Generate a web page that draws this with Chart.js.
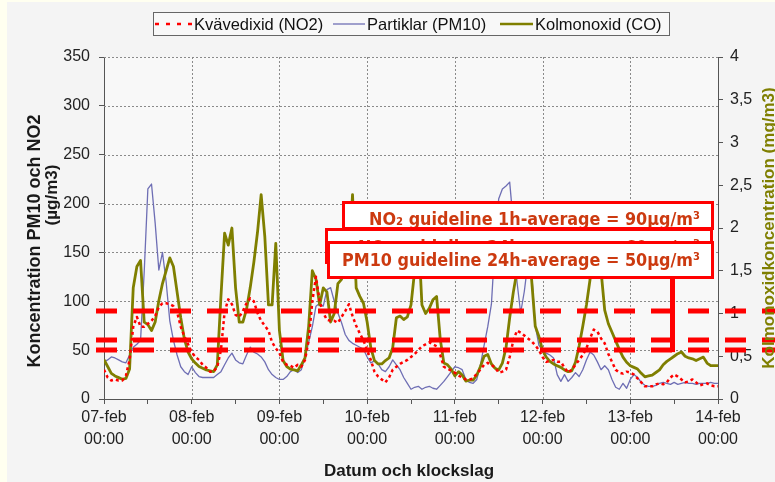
<!DOCTYPE html>
<html><head><meta charset="utf-8">
<script src="https://cdn.jsdelivr.net/npm/chart.js@4"></script>
<style>html,body{margin:0;padding:0;background:#f4f4f4;overflow:hidden}#wrap{width:775px;height:482px;position:relative}</style>
</head><body><div id="wrap"><canvas id="c" width="775" height="482"></canvas></div>
<script>
// ---- data ----
const hours = Array.from({length: 169}, (_, i) => i); // hourly time axis, 07-feb 00:00 .. 14-feb 00:00
const dayLabels = ['07-feb','08-feb','09-feb','10-feb','11-feb','12-feb','13-feb','14-feb'];
const timeLabel = '00:00';
const seriesNames = ['Kvävedixid (NO2)', 'Partiklar (PM10)', 'Kolmonoxid (CO)'];

const no2 = [30,22,19,20,19,19,24,40,74,84,74,74,77,80,85,94,98,98,97,95,89,74,64,56,
48,43,40,35,32,28,28,33,50,89,102,97,86,84,90,98,103,100,88,80,75,70,58,52,
47,38,35,34,32,35,33,40,60,100,125,100,88,81,80,80,78,84,90,97,85,75,67,60,
50,40,28,23,20,17,22,30,33,36,38,40,43,46,50,54,56,58,56,54,45,33,31,29,
27,24,22,20,20,21,26,30,35,37,35,32,27,28,30,43,60,70,68,65,62,59,55,50,
43,38,39,40,38,38,32,27,30,35,40,45,52,62,71,69,62,57,46,38,30,27,26,28,
27,25,21,17,13,13,13,15,16,15,17,22,25,23,20,17,18,20,17,14,15,16,14,13,13];

const pm10 = [38,40,43,42,40,38,37,45,53,56,60,130,215,220,180,132,150,120,80,60,45,33,28,25,
33,27,23,22,22,22,22,25,28,35,42,47,40,37,36,45,53,48,46,43,38,30,25,22,
20,20,23,28,30,27,30,43,58,74,95,98,95,112,114,100,88,78,66,60,57,55,53,51,
43,37,39,36,30,28,33,40,35,30,22,16,10,12,13,10,12,13,11,10,14,18,23,28,
33,32,30,20,17,16,20,35,55,74,97,160,205,215,218,222,180,120,88,110,140,130,75,55,
50,47,45,42,25,18,25,18,22,27,23,30,40,48,45,38,30,34,30,20,12,10,16,11,
20,25,22,17,14,13,13,14,16,17,16,15,17,15,16,17,16,16,15,16,16,16,17,16,16];

const co = [0.46,0.38,0.30,0.27,0.25,0.23,0.24,0.35,1.3,1.55,1.62,0.9,0.87,0.8,0.9,1.15,1.35,1.5,1.65,1.55,1.25,0.95,0.7,0.55,
0.47,0.42,0.38,0.36,0.34,0.33,0.32,0.4,1.2,1.94,1.8,2.0,1.3,0.9,0.9,1.05,1.3,1.6,1.95,2.39,1.9,1.1,1.1,1.82,
0.8,0.45,0.38,0.35,0.34,0.33,0.4,0.48,0.85,1.5,1.4,1.1,1.3,1.25,0.9,1.0,1.35,1.4,1.5,1.6,2.39,1.3,1.2,1.12,
0.9,0.6,0.45,0.41,0.41,0.45,0.48,0.6,0.95,0.97,0.93,0.96,1.1,1.5,1.95,1.1,1.0,1.06,1.16,1.2,0.7,0.42,0.4,0.35,
0.27,0.32,0.28,0.21,0.22,0.22,0.28,0.38,0.5,0.52,0.41,0.36,0.34,0.42,0.6,0.95,1.25,1.5,1.75,1.85,1.75,1.4,0.85,0.73,
0.57,0.49,0.44,0.41,0.39,0.37,0.34,0.32,0.33,0.43,0.62,0.85,1.1,1.4,1.8,1.95,1.5,1.04,0.88,0.78,0.68,0.58,0.49,0.43,
0.39,0.37,0.35,0.3,0.26,0.27,0.28,0.31,0.34,0.4,0.44,0.47,0.5,0.53,0.55,0.5,0.48,0.47,0.45,0.47,0.49,0.42,0.39,0.39,0.39];

const guidelineValues = [90, 60, 50];
const guidelineTexts = ['NO\u2082 guideline 1h-average = 90\u03bcg/m\u00b3',
                        'NO\u2082 guideline 24h-average = 60\u03bcg/m\u00b3',
                        'PM10 guideline 24h-average = 50\u03bcg/m\u00b3'];
const axisTitles = {
  left: ['Koncentration PM10 och NO2', '(\u00b5g/m3)'],
  right: 'Kolmonoxidkoncentration (mg/m3)',
  bottom: 'Datum och klockslag'
};

// ---- styles ----
const C_NO2 = '#ff0000', C_PM = '#6e6eb4', C_CO = '#7f7f00';
const FONT = '"Liberation Sans", Arial, sans-serif';
Chart.defaults.font.family = FONT;
Chart.defaults.font.size = 16;
Chart.defaults.color = '#222';

const bgPlugin = {
  id: 'bg',
  beforeDraw(chart) {
    const {ctx, chartArea: a} = chart;
    ctx.save();
    ctx.fillStyle = '#f4f4f4';
    ctx.fillRect(0, 0, chart.width, chart.height);
    ctx.fillStyle = '#fffff0';
    ctx.fillRect(0, 0, 7, chart.height);
    ctx.fillRect(0, 0, chart.width, 2);
    ctx.fillStyle = '#f8f8f8';
    ctx.fillRect(a.left, a.top, a.right - a.left, a.bottom - a.top);
    ctx.restore();
  },
  beforeDatasetsDraw(chart) {
    const {ctx, chartArea: a, scales} = chart;
    ctx.save();
    ctx.strokeStyle = '#8a8a8a';
    ctx.lineWidth = 1;
    ctx.setLineDash([2, 2]);
    scales.y.ticks.forEach(t => {
      if (t.value === 0) return;
      const y = Math.round(scales.y.getPixelForValue(t.value)) + 0.5;
      ctx.beginPath(); ctx.moveTo(a.left, y); ctx.lineTo(a.right, y); ctx.stroke();
    });
    scales.x.ticks.forEach(t => {
      if (t.value % 24 !== 0 || t.value === 0 || t.value === 168) return;
      const x = Math.round(scales.x.getPixelForValue(t.value)) + 0.5;
      ctx.beginPath(); ctx.moveTo(x, a.top); ctx.lineTo(x, a.bottom); ctx.stroke();
    });
    ctx.restore();
  }
};

const annoPlugin = {
  id: 'anno',
  afterDatasetsDraw(chart) {
    const {ctx, scales} = chart;
    const ys = scales.y;
    ctx.save();
    // guideline dashed lines
    ctx.strokeStyle = '#ff0000';
    ctx.lineWidth = 5;
    ctx.setLineDash([21, 16]);
    guidelineValues.forEach(v => {
      const y = Math.round(ys.getPixelForValue(v));
      ctx.beginPath(); ctx.moveTo(96, y); ctx.lineTo(775, y); ctx.stroke();
    });
    ctx.setLineDash([]);
    // connector from PM10 box down to its line
    ctx.beginPath(); ctx.moveTo(672.5, 277); ctx.lineTo(672.5, ys.getPixelForValue(guidelineValues[2]) + 2); ctx.stroke();
    // text boxes
    const boxes = [
      {x: 342, y: 201, w: 372, h: 29, tx: 700, ty: 225},
      {x: 325, y: 228, w: 388, h: 36, tx: 700, ty: 253},
      {x: 327, y: 241, w: 387, h: 38, tx: 700, ty: 266}
    ];
    const fnt = 'bold 18px "DejaVu Sans", sans-serif';
    ctx.font = fnt;
    const sx = 358 / ctx.measureText(guidelineTexts[2]).width;
    boxes.forEach((b, i) => {
      ctx.fillStyle = '#ffffff';
      ctx.fillRect(b.x, b.y, b.w, b.h);
      ctx.strokeStyle = '#ff0000';
      ctx.lineWidth = 3;
      ctx.strokeRect(b.x + 1.5, b.y + 1.5, b.w - 3, b.h - 3);
      ctx.save();
      ctx.beginPath(); ctx.rect(b.x + 3, b.y + 3, b.w - 6, b.h - 6); ctx.clip();
      ctx.translate(b.tx, b.ty);
      ctx.scale(sx, 1);
      ctx.font = fnt;
      ctx.fillStyle = '#cc3a10';
      ctx.textAlign = 'right';
      ctx.textBaseline = 'alphabetic';
      ctx.fillText(guidelineTexts[i], 0, 0);
      ctx.restore();
    });
    ctx.restore();
  },
  afterDraw(chart) {
    const {ctx} = chart;
    ctx.save();
    // legend
    ctx.fillStyle = '#f8f8f8';
    ctx.fillRect(153, 12, 517, 23);
    ctx.strokeStyle = '#666';
    ctx.lineWidth = 1;
    ctx.strokeRect(153.5, 12.5, 516, 23);
    const ly = 24;
    const items = [
      {x0: 155, x1: 192, tx: 194, color: C_NO2, w: 2.5, dash: [4, 7]},
      {x0: 333, x1: 365, tx: 367, color: C_PM, w: 1.3, dash: []},
      {x0: 500, x1: 533, tx: 535, color: C_CO, w: 2.5, dash: []}
    ];
    ctx.font = '16.5px ' + FONT;
    ctx.textBaseline = 'middle';
    ctx.textAlign = 'left';
    items.forEach((it, i) => {
      ctx.strokeStyle = it.color; ctx.lineWidth = it.w; ctx.setLineDash(it.dash);
      ctx.beginPath(); ctx.moveTo(it.x0, ly); ctx.lineTo(it.x1, ly); ctx.stroke();
      ctx.setLineDash([]);
      ctx.fillStyle = '#111';
      ctx.fillText(seriesNames[i], it.tx, ly + 1);
    });
    // axis titles
    ctx.font = 'bold 17px ' + FONT;
    ctx.textAlign = 'center';
    ctx.textBaseline = 'middle';
    ctx.fillStyle = '#1a1a1a';
    ctx.fillText(axisTitles.bottom, 409, 471);
    ctx.save(); ctx.translate(35, 241); ctx.rotate(-Math.PI / 2);
    ctx.font = 'bold 18px ' + FONT;
    ctx.fillText(axisTitles.left[0], 0, 0); ctx.restore();
    ctx.save(); ctx.translate(52, 195); ctx.rotate(-Math.PI / 2);
    ctx.font = 'bold 17px ' + FONT;
    ctx.fillText(axisTitles.left[1], 0, 0); ctx.restore();
    ctx.save(); ctx.translate(769, 228); ctx.rotate(-Math.PI / 2);
    ctx.fillStyle = C_CO;
    ctx.font = 'bold 17px ' + FONT;
    ctx.fillText(axisTitles.right, 0, 0); ctx.restore();
    ctx.restore();
  }
};

new Chart(document.getElementById('c'), {
  type: 'line',
  data: {
    labels: hours,
    datasets: [
      {label: seriesNames[0], data: no2, yAxisID: 'y', borderColor: C_NO2, borderWidth: 2.5, borderDash: [3, 3], pointRadius: 0, order: 0},
      {label: seriesNames[1], data: pm10, yAxisID: 'y', borderColor: C_PM, borderWidth: 1.3, pointRadius: 0, order: 2},
      {label: seriesNames[2], data: co, yAxisID: 'y1', borderColor: C_CO, borderWidth: 2.8, pointRadius: 0, order: 1}
    ]
  },
  options: {
    responsive: false,
    animation: false,
    devicePixelRatio: 1,
    layout: {padding: {top: 57, left: 0, right: 0, bottom: 0}},
    plugins: {legend: {display: false}, tooltip: {enabled: false}},
    elements: {line: {tension: 0, borderJoinStyle: 'round'}},
    scales: {
      x: {
        type: 'linear', min: 0, max: 168,
        grid: {display: true, drawOnChartArea: false, drawTicks: true, tickLength: 5, tickColor: '#555'},
        border: {display: true, color: '#555', width: 1},
        ticks: {
          stepSize: 12, autoSkip: false, maxRotation: 0, padding: 3, color: '#222',
          font: {size: 16, lineHeight: 1.35},
          callback: v => (v % 24 === 0 ? [dayLabels[v / 24], timeLabel] : '')
        },
        afterFit: s => { s.height = 83; }
      },
      y: {
        position: 'left', min: 0, max: 350,
        grid: {display: true, drawOnChartArea: false, drawTicks: true, tickLength: 5, tickColor: '#555'},
        border: {display: true, color: '#555', width: 1},
        ticks: {stepSize: 50, padding: 9, color: '#222', font: {size: 16}},
        afterFit: s => { s.width = 104; }
      },
      y1: {
        position: 'right', min: 0, max: 4,
        grid: {display: true, drawOnChartArea: false, drawTicks: true, tickLength: 5, tickColor: '#555'},
        border: {display: true, color: '#555', width: 1},
        ticks: {stepSize: 0.5, padding: 7, color: '#222', font: {size: 16},
          callback: v => String(v).replace('.', ',')},
        afterFit: s => { s.width = 57; }
      }
    }
  },
  plugins: [bgPlugin, annoPlugin]
});
</script>
</body></html>
